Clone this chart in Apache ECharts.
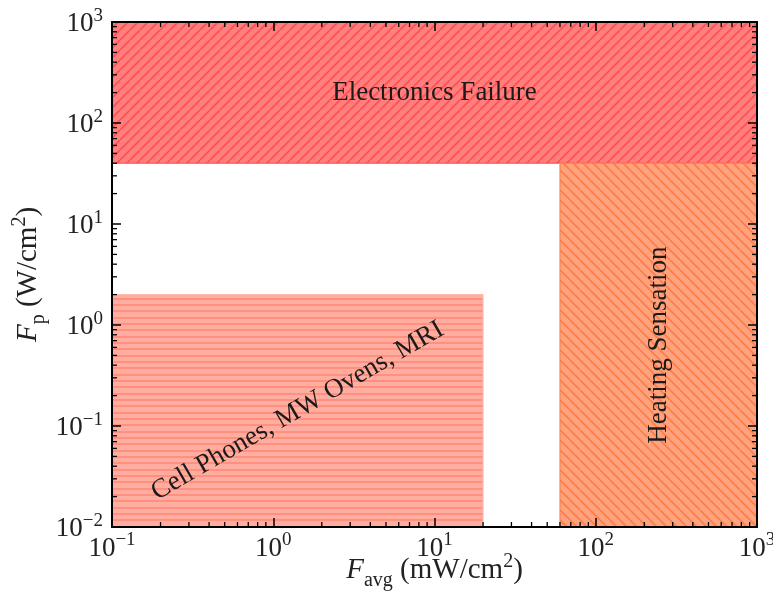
<!DOCTYPE html>
<html>
<head>
<meta charset="utf-8">
<script src="https://cdn.jsdelivr.net/npm/echarts@6/dist/echarts.min.js"></script>
<style>html,body{margin:0;padding:0;background:#fff;}#c{width:773px;height:594px;}</style>
</head>
<body>
<div id="c"></div>
<script>
// ---- data ----
const regionNames = ['Electronics Failure', 'Heating Sensation', 'Cell Phones, MW Ovens, MRI'];
const regionXLow  = [0.1, 60, 0.1];
const regionXHigh = [1000, 1000, 20];
const regionYLow  = [40, 0.01, 0.01];
const regionYHigh = [1000, 40, 2];
const xTicks = [0.1, 1, 10, 100, 1000];
const yTicks = [0.01, 0.1, 1, 10, 100, 1000];

// ---- styles ----
const FONT = '"Liberation Serif", "DejaVu Serif", serif';
const regionStyle = [
  {bg: '#ff7e7e', line: '#ff5252', edge: '#ff4a4a', hatch: '/', rot: 0},
  {bg: '#ffa27e', line: '#ff7d45', edge: '#ff7a45', hatch: '\\', rot: 90},
  {bg: '#ffada0', line: '#ff907e', edge: '#ffb8aa', hatch: '-', rot: 30}
];

function makePattern(bg, line, type) {
  const cv = document.createElement('canvas');
  const size = type === '-' ? 19 : 10;
  cv.width = size; cv.height = size;
  const ctx = cv.getContext('2d');
  ctx.fillStyle = bg; ctx.fillRect(0, 0, size, size);
  ctx.strokeStyle = line; ctx.fillStyle = line; ctx.lineWidth = 1.7;
  if (type === '-') {
    for (let k = 0; k < 3; k++) ctx.fillRect(0, Math.round(k * size / 3), size, 2);
  } else {
    ctx.beginPath();
    for (let k = -1; k <= 1; k++) {
      if (type === '/') { ctx.moveTo(k * size, size); ctx.lineTo(k * size + size, 0); }
      else { ctx.moveTo(k * size, 0); ctx.lineTo(k * size + size, size); }
    }
    ctx.stroke();
  }
  return {image: cv, repeat: 'repeat'};
}
const patterns = regionStyle.map(s => makePattern(s.bg, s.line, s.hatch));

function expLabel(v) {
  const e = Math.round(Math.log10(v));
  return '{b|10}{s|' + (e < 0 ? '\u2212' + (-e) : e) + '}';
}
const tickRich = {
  b: {fontFamily: FONT, fontSize: 27, color: '#222', verticalAlign: 'bottom'},
  s: {fontFamily: FONT, fontSize: 19, color: '#222', verticalAlign: 'bottom', padding: [0, 0, 12, 0]}
};
const nameRich = {
  i: {fontFamily: FONT, fontStyle: 'italic', fontSize: 29, color: '#222', verticalAlign: 'bottom'},
  sub: {fontFamily: FONT, fontSize: 20, color: '#222', verticalAlign: 'bottom', padding: [0, 0, -6, 0]},
  n: {fontFamily: FONT, fontSize: 29, color: '#222', verticalAlign: 'bottom'},
  sup: {fontFamily: FONT, fontSize: 20, color: '#222', verticalAlign: 'bottom', padding: [0, 0, 13, 0]}
};

// minor tick values (2..9 x 10^k) within axis ranges
function minors(lo, hi) {
  const out = [];
  for (let e = Math.round(Math.log10(lo)); e < Math.round(Math.log10(hi)); e++)
    for (let m = 2; m <= 9; m++) out.push(m * Math.pow(10, e));
  return out;
}
const minorData = minors(xTicks[0], xTicks[xTicks.length - 1]).map(v => [v, 1, 0])
  .concat(minors(yTicks[0], yTicks[yTicks.length - 1]).map(v => [1, v, 1]));

const regionData = regionNames.map((n, i) => [regionXLow[i], regionYLow[i], regionXHigh[i], regionYHigh[i], i]);

const XMIN = xTicks[0], XMAX = xTicks[xTicks.length - 1];
const YMIN = yTicks[0], YMAX = yTicks[yTicks.length - 1];

function axisCommon(show, margin) {
  return {
    type: 'log', logBase: 10, z: 10,
    axisLine: {show: true, onZero: false, lineStyle: {color: '#000', width: 2}},
    axisTick: {show: true, inside: true, length: 9, lineStyle: {color: '#000', width: 1.5}},
    splitLine: {show: false},
    axisLabel: {show: show, formatter: expLabel, rich: tickRich, margin: margin, hideOverlap: false}
  };
}

const chart = echarts.init(document.getElementById('c'), null, {renderer: 'canvas'});
chart.setOption({
  animation: false,
  backgroundColor: '#fff',
  grid: {left: 112, top: 22, right: 16, bottom: 67, containLabel: false, outerBoundsMode: 'none'},
  xAxis: [
    Object.assign(axisCommon(true, 4), {
      min: XMIN, max: XMAX, position: 'bottom',
      name: '{i|F}{sub|avg}{n| (mW/cm}{sup|2}{n|)}',
      nameLocation: 'middle', nameGap: 25, nameMoveOverlap: false,
      nameTextStyle: {rich: nameRich}
    }),
    Object.assign(axisCommon(false, 4), {min: XMIN, max: XMAX, position: 'top'})
  ],
  yAxis: [
    Object.assign(axisCommon(true, 9), {
      min: YMIN, max: YMAX, position: 'left',
      name: '{i|F}{sub|p}{n| (W/cm}{sup|2}{n|)}',
      nameLocation: 'middle', nameGap: 69, nameRotate: 90, nameMoveOverlap: false,
      nameTextStyle: {rich: nameRich}
    }),
    Object.assign(axisCommon(false, 9), {min: YMIN, max: YMAX, position: 'right'})
  ],
  series: [
    {
      type: 'custom', xAxisIndex: 0, yAxisIndex: 0, z: 2,
      data: regionData,
      encode: {x: [0, 2], y: [1, 3]},
      renderItem: function (params, api) {
        const i = api.value(4);
        const p0 = api.coord([api.value(0), api.value(1)]);
        const p1 = api.coord([api.value(2), api.value(3)]);
        const st = regionStyle[i];
        const x = Math.min(p0[0], p1[0]), y = Math.min(p0[1], p1[1]);
        const w = Math.abs(p1[0] - p0[0]), h = Math.abs(p1[1] - p0[1]);
        const c = api.coord([Math.sqrt(api.value(0) * api.value(2)), Math.sqrt(api.value(1) * api.value(3))]);
        return {
          type: 'group',
          children: [
            {type: 'rect', shape: {x: x, y: y, width: w, height: h},
             style: {fill: patterns[i], stroke: st.edge, lineWidth: 1}},
            {type: 'text', x: c[0], y: c[1], rotation: st.rot * Math.PI / 180,
             style: {text: regionNames[i], fill: '#1a1a1a', fontFamily: FONT, fontSize: 27,
                     align: 'center', verticalAlign: 'middle'}}
          ]
        };
      }
    },
    {
      type: 'custom', xAxisIndex: 0, yAxisIndex: 0, z: 20,
      data: minorData,
      encode: {x: 0, y: 1},
      renderItem: function (params, api) {
        const lo = api.coord([XMIN, YMIN]);
        const hi = api.coord([XMAX, YMAX]);
        const L = 5;
        const ls = {stroke: '#000', lineWidth: 1.3};
        if (api.value(2) === 0) {
          const x = api.coord([api.value(0), YMIN])[0];
          return {type: 'group', children: [
            {type: 'line', shape: {x1: x, y1: lo[1], x2: x, y2: lo[1] - L}, style: ls},
            {type: 'line', shape: {x1: x, y1: hi[1], x2: x, y2: hi[1] + L}, style: ls}
          ]};
        } else {
          const y = api.coord([XMIN, api.value(1)])[1];
          return {type: 'group', children: [
            {type: 'line', shape: {x1: lo[0], y1: y, x2: lo[0] + L, y2: y}, style: ls},
            {type: 'line', shape: {x1: hi[0], y1: y, x2: hi[0] - L, y2: y}, style: ls}
          ]};
        }
      }
    }
  ]
});
</script>
</body>
</html>
